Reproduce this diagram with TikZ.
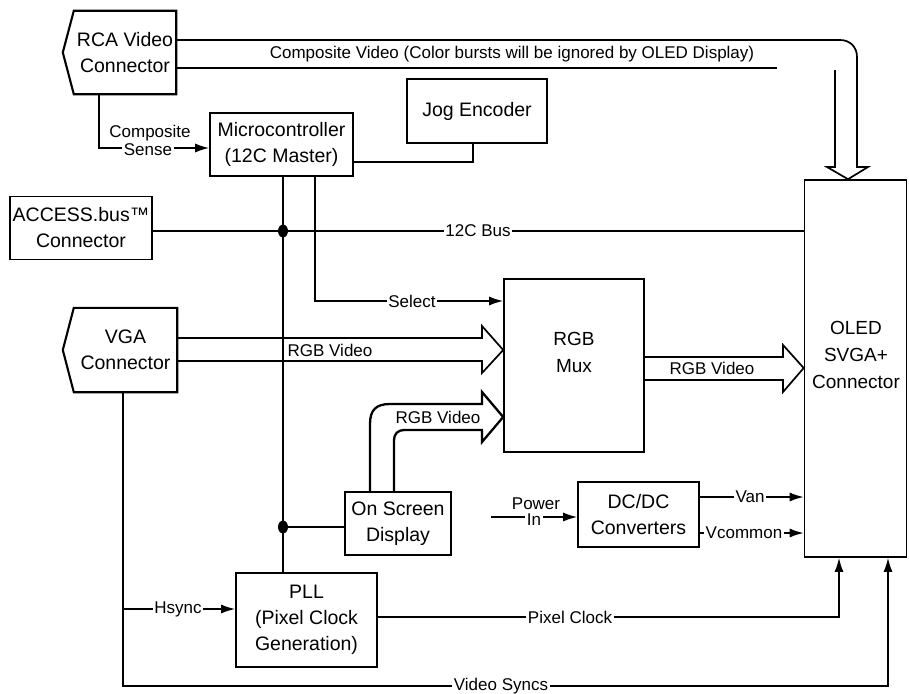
\documentclass[tikz,border=0pt]{standalone}
\usepackage{fontspec}
\setmainfont{Liberation Sans}
\usetikzlibrary{arrows.meta,calc,shapes.geometric}
\begin{document}
\begin{tikzpicture}[x=1pt,y=-1pt,
  box/.style={draw, line width=1.6pt, align=center, inner sep=0pt,
    font=\fontsize{19.5}{26}\selectfont},
  port/.style={align=center, inner sep=0pt, font=\fontsize{19.5}{26}\selectfont},
  txt/.style={align=center, inner sep=0pt, font=\fontsize{19}{27}\selectfont},
  shell/.style={line width=2.1pt, line join=miter},
  wire/.style={line width=1.5pt},
  sig/.style={wire, -{Latex[length=14pt,width=9pt]}},
  lbl/.style={fill=white, inner sep=1.5pt, font=\fontsize{17}{17}\selectfont},
  lblc/.style={inner sep=0pt, font=\fontsize{17}{17}\selectfont},
  fat/.style={line width=1.7pt, line join=miter},
  dot/.style={ellipse, fill=black, inner sep=0pt, minimum width=10pt, minimum height=13pt},
]
\useasboundingbox (0,0) rectangle (909,693);

% ---- blocks ----
\node[port, minimum width=102pt, minimum height=83pt] (rca) at (125,52.5) {RCA Video\\Connector};
\draw[shell] (rca.north west) -- (rca.north east) -- (rca.south east) -- (rca.south west)
  -- ($(rca.west)+(-11,0)$) -- cycle;

\node[box, minimum width=143pt, minimum height=63pt] (micro) at (281.5,144.5) {Microcontroller\\(12C Master)};
\node[box, minimum width=140pt, minimum height=64pt] (jog) at (477,111) {Jog Encoder};
\node[box, minimum width=142pt, minimum height=63pt] (acc) at (81,228) {ACCESS.bus™\\Connector};

\node[port, minimum width=103pt, minimum height=84pt] (vga) at (125.5,350) {VGA\\Connector};
\draw[shell] (vga.north west) -- (vga.north east) -- (vga.south east) -- (vga.south west)
  -- ($(vga.west)+(-11,0)$) -- cycle;

\node[box, minimum width=140pt, minimum height=173pt] (mux) at (574,365.5) {};
\node[txt] (muxtxt) at (574,352) {RGB\\Mux};

\node[box, minimum width=102pt, minimum height=377pt] (oled) at (855.5,368.5) {};
\node[txt] (oledtxt) at (856,355) {OLED\\SVGA+\\Connector};

\node[box, minimum width=106pt, minimum height=63pt] (osd) at (398,523.5) {On Screen\\Display};
\node[box, minimum width=141pt, minimum height=94pt] (pll) at (306.5,620) {PLL\\(Pixel Clock\\Generation)};
\node[box, minimum width=121pt, minimum height=65pt] (dcdc) at (638.5,514.5) {DC/DC\\Converters};

% ---- composite video (hollow bus arrow into the display) ----
\draw[fat] (rca.east |- 0,40) -- (840,40) .. controls (850,40) and (857,47) .. (857,57)
  -- (857,167) -- (868,167) -- (oled.north -| 848,0) -- (827,167) -- (835,167) -- (835,70);
\draw[fat] (rca.east |- 0,68) -- (777,68);
\node[lblc] (cvlbl) at (512,54) {Composite Video (Color bursts will be ignored by OLED Display)};

% ---- composite sense ----
\draw[sig] (rca.south -| 99,0) |- (micro.west |- 0,148);
\node[lblc] (cslbl1) at (150,133) {Composite};
\node[lbl] (cslbl2) at (148,150) {Sense};

% ---- jog encoder ----
\draw[wire] (micro.east |- 0,162) -| (jog.south -| 473,0);

% ---- I2C bus ----
\node[dot] (j1) at (283,231) {};
\node[dot] (j2) at (283,527) {};
\draw[wire] (acc.east |- j1) -- (oled.west |- j1);
\node[lbl] (buslbl) at (478,231) {12C Bus};
\draw[wire] (micro.south -| j1) -- (pll.north -| j1);
\draw[wire] (j2) -- (osd.west |- j2);

% ---- select ----
\draw[sig] (micro.south -| 315,0) |- (mux.west |- 0,301);
\node[lbl] (sellbl) at (412,301) {Select};

% ---- RGB video from VGA ----
\draw[fat] (vga.east |- 0,338) -- (482,338) -- (482,326) -- (mux.west |- 0,350)
  -- (482,373) -- (482,361) -- (vga.east |- 0,361);
\node[lblc] (rgb1) at (330,350) {RGB Video};

% ---- RGB video from OSD ----
\draw[line width=2.3pt, line join=miter] (osd.north -| 370,0) -- (370,424)
  .. controls (370,410) and (376,404) .. (390,404) -- (482,404) -- (482,392)
  -- (mux.west |- 0,417) -- (482,442) -- (482,430) -- (404,430)
  .. controls (398,430) and (394,434) .. (394,440) -- (osd.north -| 394,0);
\node[lblc] (rgb2) at (438,417) {RGB Video};

% ---- RGB video to display ----
\draw[fat] (mux.east |- 0,357) -- (783,357) -- (783,345) -- (oled.west |- 0,368)
  -- (783,392) -- (783,380) -- (mux.east |- 0,380);
\node[lblc] (rgb3) at (712,368) {RGB Video};

% ---- power ----
\coordinate (pin) at (491,517);
\draw[sig] (pin) -- (dcdc.west |- pin);
\node[lblc] (pwlbl1) at (536,504) {Power};
\node[lbl] (pwlbl2) at (534,520) {In};
\draw[sig] (dcdc.east |- 0,497) -- (oled.west |- 0,497);
\node[lbl] (vanlbl) at (750,497) {Van};
\draw[sig] (dcdc.east |- 0,533) -- (oled.west |- 0,533);
\node[lbl] (vclbl) at (744,533) {Vcommon};

% ---- sync and clock ----
\coordinate (hs) at (123,609);
\draw[sig] (hs) -- (pll.west |- hs);
\node[lbl] (hslbl) at (178,609) {Hsync};
\draw[sig] (vga.south -| 123,0) -- (123,686) -- (888,686) -- (oled.south -| 888,0);
\node[lbl] (vslbl) at (501,686) {Video Syncs};
\draw[sig] (pll.east |- 0,617) -| (oled.south -| 839,0);
\node[lbl] (pclbl) at (570,617) {Pixel Clock};
\end{tikzpicture}
\end{document}
